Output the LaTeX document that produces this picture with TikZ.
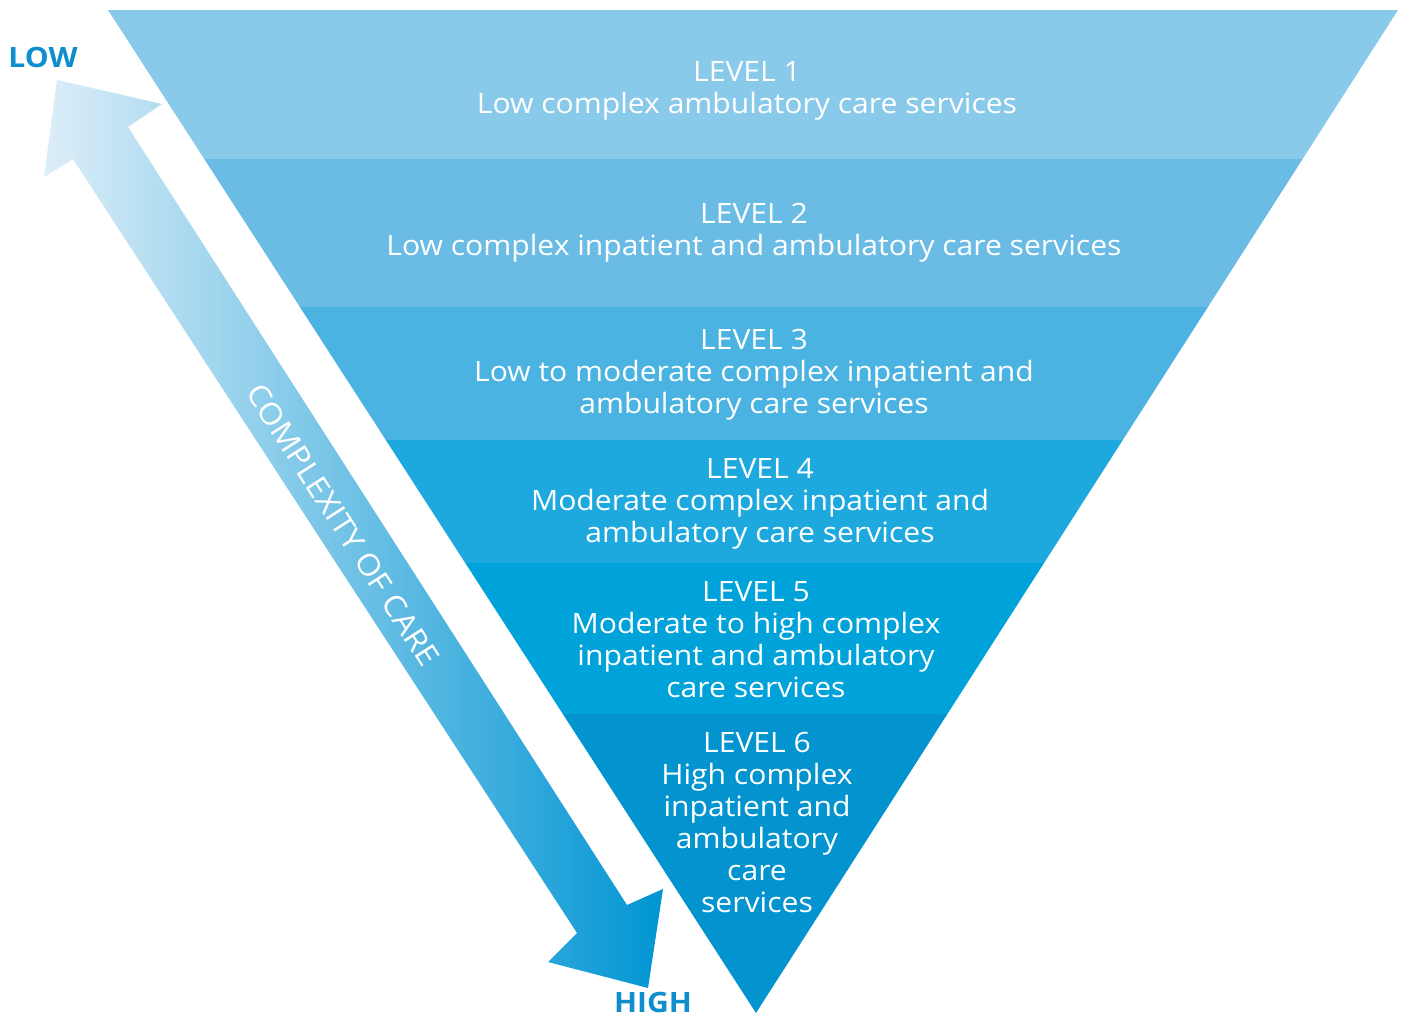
\documentclass[tikz,border=0pt]{standalone}
\usepackage{fontspec}
\setmainfont[FakeStretch=1.075]{Open Sans}
\definecolor{bandA}{HTML}{89C9EA}
\definecolor{bandB}{HTML}{6BBCE5}
\definecolor{bandC}{HTML}{4AB3E1}
\definecolor{bandD}{HTML}{1DA9DD}
\definecolor{bandE}{HTML}{00A2DA}
\definecolor{bandF}{HTML}{0394D0}
\definecolor{arrL}{HTML}{DDEEF8}
\definecolor{arrR}{HTML}{0095D3}
\definecolor{lblue}{HTML}{0E8ECC}
\begin{document}
\begin{tikzpicture}[x=1pt,y=-1pt,
  lvl/.style={text=white, align=center, inner sep=0pt, anchor=north, font=\fontsize{28}{32}\selectfont},
  endlbl/.style={text=lblue, inner sep=0pt, font=\fontsize{28}{32}\selectfont\bfseries}]
\useasboundingbox (0,0) rectangle (1405,1016);
\fill[white] (0,0) rectangle (1405,1016);
% inverted triangle with bands
\begin{scope}
\clip (108,10) -- (1398,10) -- (756,1013) -- cycle;
\fill[bandA] (0,10) rectangle (1405,159);
\fill[bandB] (0,159) rectangle (1405,307);
\fill[bandC] (0,307) rectangle (1405,440);
\fill[bandD] (0,440) rectangle (1405,563);
\fill[bandE] (0,563) rectangle (1405,714);
\fill[bandF] (0,714) rectangle (1405,1014);
\end{scope}
% double-headed arrow
\shade[left color=arrL, right color=arrR]
  (57,80) -- (162,104) -- (128,127) -- (627,905) -- (663,889) -- (648,988)
  -- (548,962) -- (577,933) -- (73,159) -- (44,177) -- cycle;
\node[text=white, inner sep=0pt, rotate=-57.3, font=\fontsize{30}{34}\selectfont] (cx) at (343,525) {COMPLEXITY OF CARE};
\node[endlbl] (low) at (43,57) {LOW};
\node[endlbl] (high) at (653,1002) {HIGH};
% level texts
\node[lvl] (l1) at (747,61) {LEVEL 1\\Low complex ambulatory care services};
\node[lvl] (l2) at (754,203) {LEVEL 2\\Low complex inpatient and ambulatory care services};
\node[lvl] (l3) at (754,329) {LEVEL 3\\Low to moderate complex inpatient and\\ambulatory care services};
\node[lvl] (l4) at (760,458) {LEVEL 4\\Moderate complex inpatient and\\ambulatory care services};
\node[lvl] (l5) at (756,581) {LEVEL 5\\Moderate to high complex\\inpatient and ambulatory\\care services};
\node[lvl] (l6) at (757,732) {LEVEL 6\\High complex\\inpatient and\\ambulatory\\care\\services};
\end{tikzpicture}
\end{document}
